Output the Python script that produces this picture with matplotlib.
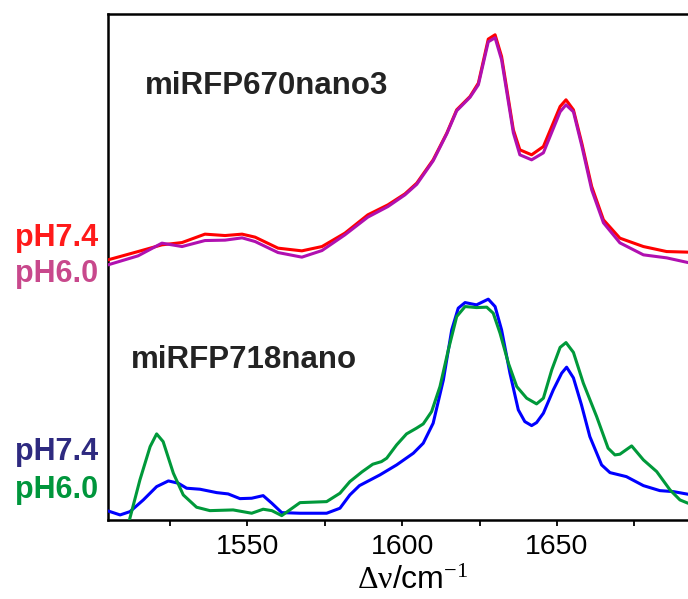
import matplotlib
matplotlib.use('Agg')
import matplotlib.pyplot as plt

# ── Data (arbitrary intensity units) ──────────────────────────────────────
# miRFP670nano3, stored without its vertical offset
top_x = [1505, 1514.7, 1522.4, 1528.9, 1536.3, 1542.8, 1548.3, 1552.5, 1559.9,
         1567.6, 1574.1, 1581.5, 1588.9, 1595.4, 1600.9, 1604.7, 1610, 1614.4,
         1617.6, 1621.9, 1624.6, 1627.8, 1630, 1632.1, 1635.9, 1638, 1641.8,
         1645.6, 1651, 1652.9, 1655.3, 1658, 1661.2, 1665, 1670.3, 1677.9,
         1685.4, 1692.3]
top_ph74 = [10, 18.3, 25, 27.3, 35.7, 34.3, 35.7, 32.7, 21.7, 19, 23.3, 36.7,
            55, 65, 76, 86.7, 110, 136.7, 160, 173.3, 186.7, 230.7, 235, 213.3,
            140, 120, 115, 123.3, 163.3, 170, 160, 126.7, 83.3, 50, 31.7, 23.3,
            18.3, 17.7]
top_ph60 = [5, 14, 26.7, 23.3, 29.3, 29.7, 32, 28.3, 17.3, 12.7, 19.3, 35,
            52.7, 63.3, 75, 85.5, 109, 136, 159, 172.5, 185, 228, 232, 210,
            137, 115, 110, 117, 158, 165, 158, 124, 80, 47, 27, 15, 12, 7.3]
top_offset = 250

# miRFP718nano
blue_x = [1505, 1508.9, 1512.1, 1516.4, 1520.7, 1524.5, 1527.7, 1530.4, 1534.7,
          1540.1, 1543.8, 1547.6, 1551.4, 1555.1, 1557.9, 1561.1, 1567, 1575.6,
          1579.9, 1583.1, 1586.2, 1592.8, 1598.2, 1603.6, 1606.8, 1610, 1613.3,
          1616, 1618.1, 1620.3, 1624, 1627.8, 1630, 1632.1, 1634.8, 1637.5,
          1639.6, 1641.8, 1643.4, 1645.6, 1648.8, 1651.5, 1653.1, 1655.3,
          1657.9, 1660.6, 1664.4, 1667.1, 1672.4, 1677.9, 1683.2, 1687.6, 1692.3]
bot_ph74 = [9, 5, 8.3, 20, 33.3, 39, 36.7, 31.7, 30.7, 27.3, 26, 21.3, 21.7,
            24.3, 16.7, 7.3, 6.7, 6.7, 11.7, 25, 34.3, 45, 55, 66.7, 76.7, 96.7,
            140, 190, 211.7, 217.3, 215, 220.7, 213.3, 190, 146.7, 110, 98.3,
            94.3, 97.3, 106.7, 130, 146.7, 152.7, 142, 115, 83.3, 55, 47.3, 43.3,
            34.3, 29.3, 28.3, 25.7]

green_x = [1511.5, 1515.3, 1518.6, 1520.7, 1522.8, 1526.1, 1529.3, 1533.6,
           1537.9, 1545.4, 1551.4, 1555.1, 1557.9, 1561.1, 1567, 1575.6, 1579.9,
           1583.1, 1587, 1590.5, 1593.3, 1595, 1598.2, 1601.4, 1604.6, 1606.8,
           1609.5, 1612.2, 1614.9, 1617.6, 1620.3, 1624, 1627.3, 1629.4, 1631.6,
           1634.3, 1637, 1640.2, 1643.4, 1645.6, 1648.3, 1651, 1652.9, 1655.3,
           1658.5, 1662.8, 1666.5, 1668.7, 1670.3, 1674.1, 1677.9, 1682.2,
           1686.5, 1689.7, 1692.3]
bot_ph60 = [-5, 40, 73.3, 86, 78.3, 46.7, 25, 12.7, 9.3, 10, 6.7, 10.7, 9.3,
            4.3, 17.3, 18.3, 26.7, 38.3, 48, 55.7, 58.3, 61.7, 75, 86, 91.7, 96,
            108.3, 133.3, 170, 203.3, 213.3, 212.3, 212.7, 206.7, 186.7, 156.7,
            133.3, 121.7, 116, 121.7, 150, 172.5, 177.3, 167.5, 136.7, 103.3,
            71.7, 65, 65.7, 74, 60, 48.3, 30, 20, 16.7]

major_ticks = [1550, 1600, 1650]
minor_ticks = [1525, 1575, 1625, 1675]

# ── Style ─────────────────────────────────────────────────────────────────
plt.rcParams['font.family'] = ['Liberation Sans', 'DejaVu Sans']
# upright serif Greek in the axis label
plt.rcParams['mathtext.fontset'] = 'custom'
plt.rcParams['mathtext.rm'] = 'Liberation Serif'
plt.rcParams['mathtext.it'] = 'Liberation Serif'
plt.rcParams['mathtext.bf'] = 'Liberation Serif:bold'

fig = plt.figure(figsize=(6.88, 5.99), dpi=100)
ax = fig.add_axes([0.157, 0.132, 0.843, 0.845])

line_kw = dict(lw=2.2, solid_joinstyle='round', solid_capstyle='round', zorder=3)
ax.plot(top_x, [v + top_offset for v in top_ph74], color='#ff0000', **line_kw)
ax.plot(top_x, [v + top_offset for v in top_ph60], color='#b010b0', **line_kw)
ax.plot(blue_x, bot_ph74, color='#0000ff', **line_kw)
ax.plot(green_x, bot_ph60, color='#00993a', **line_kw)

ax.set_xlim(1505, 1692.3)
ax.set_ylim(0, 506)

for side in ['left', 'top', 'bottom']:
    ax.spines[side].set_linewidth(1.8)
ax.spines['right'].set_visible(False)

ax.set_yticks([])
ax.set_xticks(major_ticks)
ax.set_xticks(minor_ticks, minor=True)
ax.tick_params(axis='x', which='both', direction='out', length=4, width=1.3,
               labelsize=20.5, pad=6)

ax.set_xlabel(r'$\Delta\nu$/cm$^{-1}$', fontsize=23)
ax.xaxis.set_label_coords(0.526, -0.092)

ax.text(0.064, 0.857, 'miRFP670nano3', transform=ax.transAxes, fontsize=22.5,
        fontweight='bold', color='#232323', va='center', ha='left')
ax.text(0.04, 0.316, 'miRFP718nano', transform=ax.transAxes, fontsize=22.5,
        fontweight='bold', color='#232323', va='center', ha='left')

# pH labels to the left of the axes
for label, color, ypix in [('pH7.4', '#ff1a1a', 238), ('pH6.0', '#c8488c', 274),
                           ('pH7.4', '#2e2a80', 452), ('pH6.0', '#00963c', 490)]:
    fig.text(98 / 688, 1 - ypix / 599, label, color=color, fontsize=22,
             fontweight='bold', ha='right', va='center')

fig.savefig('out.png', dpi=100)
plt.close(fig)
